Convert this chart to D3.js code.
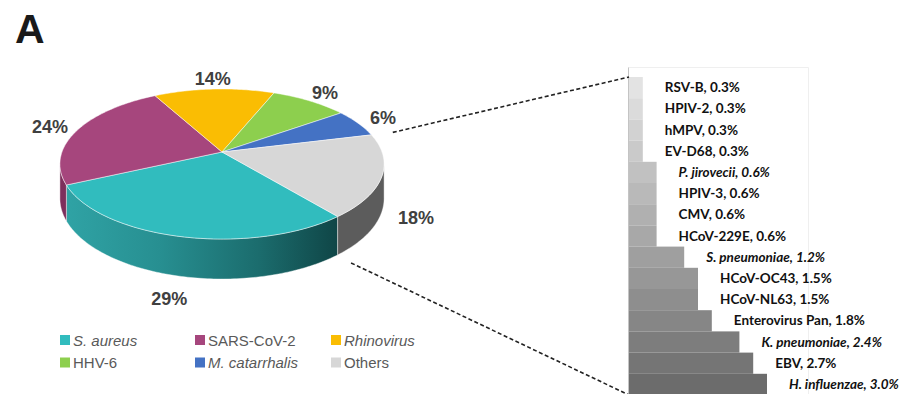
<!DOCTYPE html>
<html><head><meta charset="utf-8">
<script src="https://cdn.jsdelivr.net/npm/d3@7"></script>
<style>body{margin:0;background:#fff}svg{display:block}</style>
</head><body>
<script>
// Pathogen share among positive samples (pie) and breakdown of "Others" (bar)
const pieCategories = ["S. aureus", "SARS-CoV-2", "Rhinovirus", "HHV-6", "M. catarrhalis", "Others"];
const pieValues = [29, 24, 14, 9, 6, 18];
const pieItalic = [true, false, true, false, true, false];
const pieColors = ["#31bcbe", "#a6467d", "#fabd03", "#8dcf4e", "#4472c4", "#d7d7d7"];
const pieSideColors = ["url(#sideTeal)", "#7d2f5c", "#c19000", "#6aa035", "#2f5597", "#5c5c5c"];

const barCategories = ["RSV-B", "HPIV-2", "hMPV", "EV-D68", "P. jirovecii", "HPIV-3", "CMV", "HCoV-229E",
  "S. pneumoniae", "HCoV-OC43", "HCoV-NL63", "Enterovirus Pan", "K. pneumoniae", "EBV", "H. influenzae"];
const barValues = [0.3, 0.3, 0.3, 0.3, 0.6, 0.6, 0.6, 0.6, 1.2, 1.5, 1.5, 1.8, 2.4, 2.7, 3.0];
const barItalic = [false, false, false, false, true, false, false, false, true, false, false, false, true, false, true];

const W = 917, H = 394;
const svg = d3.select("body").append("svg").attr("width", W).attr("height", H);
const sans = "'Liberation Sans', Arial, sans-serif";

// panel letter
svg.append("text").attr("x", 15).attr("y", 43).text("A")
  .attr("font-family", sans).attr("font-weight", "bold").attr("font-size", 41).attr("fill", "#1a1a1a");

// gradient for the teal rim
const defs = svg.append("defs");
const g = defs.append("linearGradient").attr("id", "sideTeal").attr("gradientUnits", "userSpaceOnUse")
  .attr("x1", 60).attr("x2", 345).attr("y1", 0).attr("y2", 0);
[[0, "#30a4a6"], [0.35, "#278f91"], [0.7, "#1b6c6d"], [1, "#0e4243"]].forEach(([o, c]) =>
  g.append("stop").attr("offset", o).attr("stop-color", c));

// perspective-projected 3D pie
const P = {cx: 222, cy: 152, R: 160, R2: 73.1, k: 0.16, D: 33.6};
function proj(a, r, z) {
  const u = r * Math.sin(a), v = r * Math.cos(a), w = 1 + P.k * v;
  return [P.cx + P.R * u / w, P.cy - P.R2 * v / w + z * P.D / w];
}
function rim(a0, a1, z) {
  const n = Math.max(2, Math.ceil((a1 - a0) / (Math.PI / 180)));
  return d3.range(n + 1).map(i => proj(a0 + (a1 - a0) * i / n, 1, z));
}
const startAngle = 140.7 * Math.PI / 180;
const arcs = d3.pie().sort(null).value(d => d)
  .startAngle(startAngle).endAngle(startAngle + 2 * Math.PI)(pieValues);

const pieG = svg.append("g");
const vis0 = Math.acos(-P.k), vis1 = 2 * Math.PI - vis0;
const line = d3.line();

// visible front rim
arcs.forEach((d, i) => {
  [-2 * Math.PI, 0, 2 * Math.PI].forEach(sh => {
    const s = Math.max(d.startAngle + sh, vis0), e = Math.min(d.endAngle + sh, vis1);
    if (s < e) {
      const pts = rim(s, e, 0).concat(rim(s, e, 1).reverse());
      pieG.append("path").attr("d", line(pts) + "Z").attr("fill", pieSideColors[i])
        .attr("stroke", "#ffffff").attr("stroke-opacity", 0.5).attr("stroke-width", 0.8);
    }
  });
});

// top faces
arcs.forEach((d, i) => {
  const pts = [proj(0, 0, 0)].concat(rim(d.startAngle, d.endAngle, 0));
  pieG.append("path").attr("d", line(pts) + "Z").attr("fill", pieColors[i])
    .attr("stroke", "#ffffff").attr("stroke-opacity", 0.6).attr("stroke-width", 0.8);
});

// percentage labels
arcs.forEach((d, i) => {
  const mid = (d.startAngle + d.endAngle) / 2;
  const p = proj(mid, 1.2, Math.cos(mid) < 0 ? 1 : 0);
  pieG.append("text").attr("x", p[0]).attr("y", p[1]).attr("dy", "0.36em")
    .attr("text-anchor", "middle").attr("font-family", sans).attr("font-weight", "bold")
    .attr("font-size", 18).attr("fill", "#404040").text(d.data + "%");
});

// legend
const legend = svg.append("g").attr("font-family", sans).attr("font-size", 15);
const legX = [60, 195, 331], legY = [335, 357.5];
pieCategories.forEach((c, i) => {
  const x = legX[i % 3], y = legY[Math.floor(i / 3)];
  legend.append("rect").attr("x", x).attr("y", y).attr("width", 10).attr("height", 10).attr("fill", pieColors[i]);
  legend.append("text").attr("x", x + 13).attr("y", y + 10.5).attr("fill", "#595959")
    .attr("font-style", pieItalic[i] ? "italic" : "normal").text(c);
});

// breakdown bars
const yBar = d3.scaleBand().domain(barCategories).range([77, 77 + 15 * 21.2]);
const xBar = d3.scaleLinear().domain([0, 3]).range([629, 767]);
const shade = d3.scaleLinear().domain([0, barCategories.length - 1]).range(["#e3e3e3", "#6c6c6c"]);

// frame around the breakdown
const frame = svg.append("g").attr("fill", "none");
frame.append("path").attr("d", "M628.5,430V67.5H808.5V430").attr("stroke", "#efefef");
frame.append("line").attr("x1", 628.5).attr("x2", 628.5).attr("y1", 67.5).attr("y2", 430)
  .attr("stroke", "#c4c4c4");

const barG = svg.append("g");
barG.selectAll("rect").data(barCategories).join("rect")
  .attr("x", xBar(0)).attr("y", c => yBar(c))
  .attr("width", (c, i) => xBar(barValues[i]) - xBar(0)).attr("height", yBar.bandwidth())
  .attr("fill", (c, i) => shade(i));

barG.selectAll("text").data(barCategories).join("text")
  .attr("x", (c, i) => xBar(barValues[i]) + 22)
  .attr("y", c => yBar(c) + yBar.bandwidth() / 2 + 4.5)
  .attr("font-family", "Lato, 'Open Sans', sans-serif").attr("font-weight", "bold")
  .attr("font-size", 13.5).attr("fill", "#111")
  .attr("font-style", (c, i) => barItalic[i] ? "italic" : "normal")
  .text((c, i) => c + ", " + barValues[i].toFixed(1) + "%");

// dashed connectors from the "Others" slice to the breakdown
const others = arcs[pieCategories.indexOf("Others")];
const c1 = proj(others.startAngle, 1.15, 0), c2 = proj(others.endAngle, 1.1, 1);
[[c1, [xBar(0), yBar.range()[0]]], [c2, [xBar(0), yBar.range()[1]]]].forEach(([a, b]) => {
  svg.append("line").attr("x1", a[0]).attr("y1", a[1]).attr("x2", b[0]).attr("y2", b[1])
    .attr("stroke", "#222").attr("stroke-width", 1.6).attr("stroke-dasharray", "4,2.5");
});
</script>
</body></html>
